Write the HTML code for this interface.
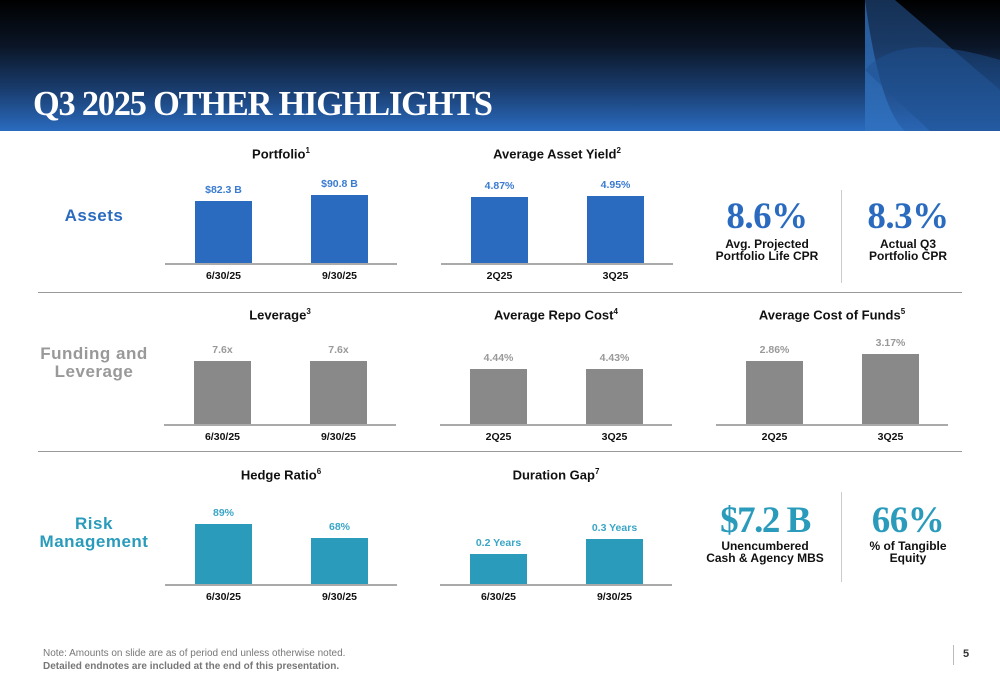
<!DOCTYPE html>
<html><head><meta charset="utf-8">
<style>
body{margin:0;width:1000px;height:685px;overflow:hidden;background:#fff;font-family:"Liberation Sans",sans-serif;position:relative}
.abs{position:absolute}
#hdr{left:0;top:0;width:1000px;height:131px;background:linear-gradient(#000 0%,#0a1526 35%,#1a3f72 70%,#2a6bbf 100%)}
#title{left:33px;top:84px;color:#fff;font-family:"Liberation Serif",serif;font-weight:bold;font-size:35px;letter-spacing:-1.2px;transform:scaleX(0.98);transform-origin:left}
.ct{font-weight:bold;font-size:13px;color:#111;text-align:center;width:240px}
.ct sup{font-size:8px}
.sec{font-weight:bold;font-size:17px;text-align:center;width:150px;line-height:18px;letter-spacing:0.5px}
.big{font-family:"Liberation Serif",serif;font-weight:bold;font-size:37px;text-align:center;width:160px;letter-spacing:-0.5px}
.sub{font-weight:bold;font-size:12px;color:#111;text-align:center;width:150px;line-height:12px}
.hl{height:1px;background:#999}
.vl{width:1px;background:#ccc}
</style></head><body>
<div id="hdr" class="abs">
<svg width="1000" height="131" style="position:absolute;left:0;top:0">
<polygon points="865,0 895,0 1000,90 1000,131 865,131" fill="#2a5fa8" opacity="0.5"/>
<path d="M865,0 Q880,110 905,131 L865,131Z" fill="#3478c8" opacity="0.6"/>
<path d="M865,70 Q900,30 1000,60 L1000,131 L930,131Z" fill="#1e4f90" opacity="0.5"/>
</svg></div>
<div id="title" class="abs">Q3 2025 OTHER HIGHLIGHTS</div>

<div class="abs sec" style="left:19px;top:207px;color:#2a6bbf">Assets</div>
<div class="abs sec" style="left:19px;top:345px;color:#999">Funding and<br>Leverage</div>
<div class="abs sec" style="left:19px;top:515px;color:#2a9bbb">Risk<br>Management</div>

<div class="abs hl" style="left:38px;top:292px;width:924px"></div>
<div class="abs hl" style="left:38px;top:451px;width:924px"></div>
<div class="abs vl" style="left:841px;top:190px;height:93px"></div>
<div class="abs vl" style="left:841px;top:492px;height:90px"></div>

<div class="abs big" style="left:687px;top:195px;color:#2a6bbf">8.6%</div>
<div class="abs sub" style="left:692px;top:238px">Avg. Projected<br>Portfolio Life CPR</div>
<div class="abs big" style="left:828px;top:195px;color:#2a6bbf">8.3%</div>
<div class="abs sub" style="left:833px;top:238px">Actual Q3<br>Portfolio CPR</div>
<div class="abs big" style="left:685px;top:499px;color:#2a9bbb;letter-spacing:-1.5px">$7.2 B</div>
<div class="abs sub" style="left:690px;top:540px">Unencumbered<br>Cash &amp; Agency MBS</div>
<div class="abs big" style="left:828px;top:499px;color:#2a9bbb">66%</div>
<div class="abs sub" style="left:833px;top:540px">% of Tangible<br>Equity</div>

<div class="abs" style="left:43px;top:647px;font-size:10px;color:#777;line-height:13px">Note: Amounts on slide are as of period end unless otherwise noted.<br><b>Detailed endnotes are included at the end of this presentation.</b></div>
<div class="abs" style="left:953px;top:645px;width:1px;height:20px;background:#bbb"></div>
<div class="abs" style="left:963px;top:648px;font-size:11px;font-weight:bold;color:#333">5</div>

<script>
const portfolioCats=["6/30/25","9/30/25"],portfolioVals=[82.3,90.8],portfolioLabels=["$82.3 B","$90.8 B"];
const yieldCats=["2Q25","3Q25"],yieldVals=[4.87,4.95],yieldLabels=["4.87%","4.95%"];
const leverageCats=["6/30/25","9/30/25"],leverageVals=[7.6,7.6],leverageLabels=["7.6x","7.6x"];
const repoCats=["2Q25","3Q25"],repoVals=[4.44,4.43],repoLabels=["4.44%","4.43%"];
const cofCats=["2Q25","3Q25"],cofVals=[2.86,3.17],cofLabels=["2.86%","3.17%"];
const hedgeCats=["6/30/25","9/30/25"],hedgeVals=[89,68],hedgeLabels=["89%","68%"];
const durCats=["6/30/25","9/30/25"],durVals=[0.2,0.3],durLabels=["0.2 Years","0.3 Years"];

function chart(name,title,sup,left,base,dmax,cats,vals,labels,color,lblColor){
  const plotH=90;
  const y=v=>base-v/dmax*plotH;
  const t=document.createElement('div');t.className='abs ct';
  
  
  t.style.left=(left-4)+'px';t.style.top=(base-117)+'px';
  t.innerHTML=title+'<sup>'+sup+'</sup>';document.body.appendChild(t);
  const ax=document.createElement('div');ax.className='abs';
  
  
  ax.style.cssText=`left:${left}px;top:${base}px;width:232px;height:1.5px;background:#aaa`;
  document.body.appendChild(ax);
  cats.forEach((c,i)=>{
    const bx=left+30+i*116, top=y(vals[i]);
    const b=document.createElement('div');b.className='abs';
    
    
    b.style.cssText=`left:${bx}px;top:${top}px;width:57px;height:${base-top}px;background:${color}`;
    document.body.appendChild(b);
    const l=document.createElement('div');l.className='abs';
    
    
    l.style.cssText=`left:${bx-30}px;top:${top-17}px;width:117px;text-align:center;font-size:10.5px;font-weight:bold;color:${lblColor}`;
    l.textContent=labels[i];document.body.appendChild(l);
    const k=document.createElement('div');k.className='abs';
    
    
    k.style.cssText=`left:${bx-30}px;top:${base+7}px;width:117px;text-align:center;font-size:10.5px;font-weight:bold;color:#111`;
    k.textContent=c;document.body.appendChild(k);
  });
}
const BL='#2a6bbf',GR='#898989',TE='#2a9bbb';
chart('portfolio','Portfolio','1',165,263,120,portfolioCats,portfolioVals,portfolioLabels,BL,'#3a7bd0');
chart('asset-yield','Average Asset Yield','2',441,263,6.65,yieldCats,yieldVals,yieldLabels,BL,'#3a7bd0');
chart('leverage','Leverage','3',164,424,10.86,leverageCats,leverageVals,leverageLabels,GR,'#999');
chart('repo-cost','Average Repo Cost','4',440,424,7.27,repoCats,repoVals,repoLabels,GR,'#999');
chart('cost-of-funds','Average Cost of Funds','5',716,424,4.07,cofCats,cofVals,cofLabels,GR,'#999');
chart('hedge-ratio','Hedge Ratio','6',165,584,133.5,hedgeCats,hedgeVals,hedgeLabels,TE,'#3aa5c5');
chart('duration-gap','Duration Gap','7',440,584,0.6,durCats,durVals,durLabels,TE,'#3aa5c5');
</script>
</body></html>
